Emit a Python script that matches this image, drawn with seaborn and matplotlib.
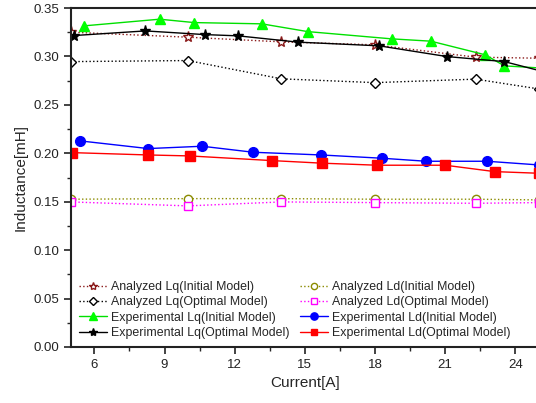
import matplotlib
matplotlib.use("Agg")
import matplotlib.pyplot as plt
import seaborn as sns
import numpy as np
from matplotlib.ticker import MultipleLocator

sns.set_style("ticks")
plt.rcParams['font.family'] = ['Liberation Sans', 'DejaVu Sans']

# Analyzed (FEA) points
x_an = [5.0, 10.0, 14.0, 18.0, 22.3, 25.0]
lq_an_init = [0.3251, 0.3199, 0.3151, 0.3120, 0.2993, 0.2982]
lq_an_opt = [0.2947, 0.2958, 0.2769, 0.2730, 0.2766, 0.2665]
ld_an_init = [0.1526, 0.1532, 0.1532, 0.1526, 0.1526, 0.1519]
ld_an_opt = [0.1498, 0.1457, 0.1498, 0.1491, 0.1484, 0.1491]

# Experimental Lq (initial model)
x_lq_exp_init = [5.55, 8.79, 10.27, 13.16, 15.12, 18.71, 20.39, 22.72, 23.53, 25.5]
lq_exp_init = [0.3316, 0.3385, 0.3350, 0.3337, 0.3257, 0.3182, 0.3158, 0.3017, 0.2903, 0.2875]
# Experimental Lq (optimal model)
x_lq_exp_opt = [5.12, 8.18, 10.72, 12.15, 14.71, 18.18, 21.08, 23.53, 25.5]
lq_exp_opt = [0.3216, 0.3264, 0.3226, 0.3213, 0.3148, 0.3110, 0.2999, 0.2947, 0.2825]
# Experimental Ld (initial model)
x_ld_exp_init = [5.40, 8.30, 10.61, 12.79, 15.69, 18.31, 20.19, 22.79, 25.0]
ld_exp_init = [0.2128, 0.2049, 0.2073, 0.2011, 0.1983, 0.1949, 0.1918, 0.1918, 0.1880]
# Experimental Ld (optimal model)
x_ld_exp_opt = [5.06, 8.30, 10.07, 13.58, 15.75, 18.10, 21.00, 23.12, 25.0]
ld_exp_opt = [0.2007, 0.1983, 0.1973, 0.1925, 0.1898, 0.1877, 0.1877, 0.1811, 0.1794]

labels = ["Analyzed Lq(Initial Model)", "Analyzed Lq(Optimal Model)",
          "Experimental Lq(Initial Model)", "Experimental Lq(Optimal Model)",
          "Analyzed Ld(Initial Model)", "Analyzed Ld(Optimal Model)",
          "Experimental Ld(Initial Model)", "Experimental Ld(Optimal Model)"]

fig = plt.figure(figsize=(5.36, 4.03), dpi=100)
ax = fig.add_axes([0.1325, 0.139, 0.8725, 0.841])

series = [
    (x_an, lq_an_init, dict(color="#8B1A1A", ls=":", marker="*", mfc="white", mec="#8B1A1A", ms=8)),
    (x_an, lq_an_opt, dict(color="black", ls=":", marker="D", mfc="white", mec="black", ms=5.5)),
    (x_lq_exp_init, lq_exp_init, dict(color="#00E000", ls="-", marker="^", mfc="#00FF00", mec="#00FF00", ms=7)),
    (x_lq_exp_opt, lq_exp_opt, dict(color="black", ls="-", marker="*", mfc="black", mec="black", ms=8)),
    (x_an, ld_an_init, dict(color="#8B8B00", ls=":", marker="o", mfc="white", mec="#8B8B00", ms=6)),
    (x_an, ld_an_opt, dict(color="#FF00FF", ls=":", marker="s", mfc="white", mec="#FF00FF", ms=5.5)),
    (x_ld_exp_init, ld_exp_init, dict(color="#0000FF", ls="-", marker="o", mfc="#0000FF", mec="#0000FF", ms=7)),
    (x_ld_exp_opt, ld_exp_opt, dict(color="#FF0000", ls="-", marker="s", mfc="#FF0000", mec="#FF0000", ms=6.5)),
]

for (xs, ys, st), lab in zip(series, labels):
    sns.lineplot(x=xs, y=ys, ax=ax, label=lab, estimator=None, sort=False,
                 color=st["color"], linestyle=st["ls"], linewidth=1.0,
                 marker=st["marker"], markerfacecolor=st["mfc"],
                 markeredgecolor=st["mec"], markersize=st["ms"], markeredgewidth=1.0,
                 clip_on=True)

ax.set_xlim(5, 25)
ax.set_ylim(0, 0.35)
ax.set_xticks([6, 9, 12, 15, 18, 21, 24])
ax.xaxis.set_minor_locator(MultipleLocator(1.5))
ax.yaxis.set_major_locator(MultipleLocator(0.05))
ax.yaxis.set_minor_locator(MultipleLocator(0.025))
ax.yaxis.set_major_formatter(matplotlib.ticker.FormatStrFormatter("%.2f"))
ax.tick_params(which="major", direction="out", length=5, width=1.2, labelsize=9.5, colors="#222222")
ax.tick_params(which="minor", direction="out", length=3, width=1.0)
for s in ax.spines.values():
    s.set_linewidth(1.5)
    s.set_color("#222222")

ax.set_xlabel("Current[A]", fontsize=11)
ax.set_ylabel("Inductance[mH]", fontsize=11)

ax.legend(ncol=2, loc="lower left", bbox_to_anchor=(0.0, 0.0), frameon=False,
          fontsize=8.9, handlelength=2.3, handletextpad=0.3, columnspacing=0.8,
          labelspacing=0.27, borderaxespad=0.25, markerscale=0.75)

fig.savefig("out.png", dpi=100)
